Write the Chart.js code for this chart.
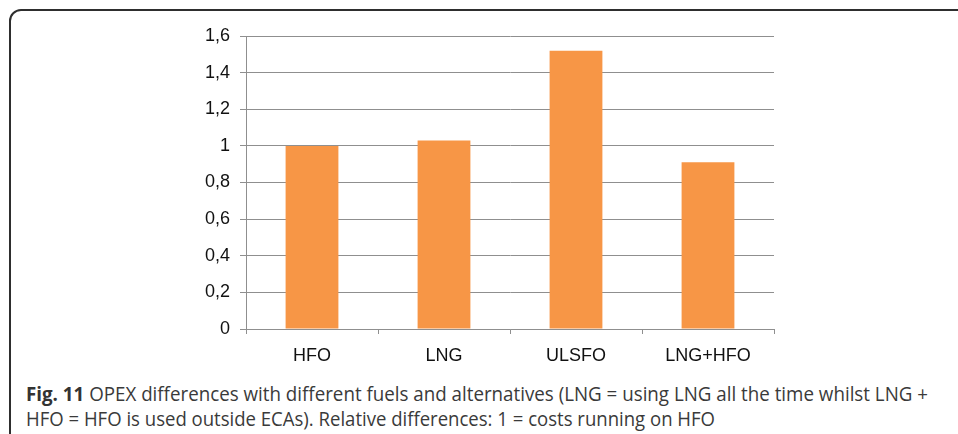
<!DOCTYPE html>
<html>
<head>
<meta charset="utf-8">
<script src="https://cdn.jsdelivr.net/npm/chart.js"></script>
<style>
  html, body { margin: 0; padding: 0; background: #fff; overflow: hidden; }
  #frame { position: absolute; left: 9px; top: 9px; width: 1000px; height: 500px;
           border: 2px solid #2e2e2e; border-radius: 12px; }
  #wrap { position: absolute; left: 0; top: 0; width: 958px; height: 375px; }
  .cap { position: absolute; left: 26px; white-space: nowrap; font-family: 'Open Sans', sans-serif;
         font-size: 20px; line-height: 26px; color: #3a3a3a; transform-origin: 0 0; }
  .cap b { color: #333; }
</style>
</head>
<body>
<div id="frame"></div>
<div id="wrap"><canvas id="opexChart"></canvas></div>
<div class="cap" id="line1" data-w="902" style="top:381px"><b>Fig. 11</b> OPEX differences with different fuels and alternatives (LNG = using LNG all the time whilst LNG +</div>
<div class="cap" id="line2" data-w="689" style="top:406px">HFO = HFO is used outside ECAs). Relative differences: 1 = costs running on HFO</div>
<script>
const categories = ['HFO', 'LNG', 'ULSFO', 'LNG+HFO'];
const opexValues = [1.0, 1.03, 1.52, 0.91];
const yTickLabels = ['0', '0,2', '0,4', '0,6', '0,8', '1', '1,2', '1,4', '1,6'];

document.addEventListener("DOMContentLoaded", () => {
  // squeeze caption lines to the width they take in the figure
  document.querySelectorAll('.cap').forEach(el => {
    const w = el.getBoundingClientRect().width;
    el.style.transform = 'scaleX(' + (el.dataset.w / w) + ')';
  });

  const ctx = document.getElementById('opexChart');
  new Chart(ctx, {
    type: 'bar',
    data: {
      labels: categories,
      datasets: [{
        data: opexValues,
        backgroundColor: '#F79646',
        categoryPercentage: 1,
        barPercentage: 0.4
      }]
    },
    options: {
      responsive: true,
      maintainAspectRatio: false,
      animation: false,
      layout: { padding: { top: 36, right: 184, left: 0, bottom: 0 } },
      plugins: {
        legend: { display: false },
        tooltip: { enabled: false }
      },
      scales: {
        x: {
          grid: { drawOnChartArea: false, offset: true, tickLength: 5, color: '#8f8f8f' },
          border: { color: '#8f8f8f' },
          ticks: { color: '#111', padding: 11, font: { family: 'Liberation Sans', size: 18 } },
          afterFit: s => { s.height = 46; }
        },
        y: {
          min: 0,
          max: 1.6,
          grid: { color: '#8f8f8f', tickLength: 6 },
          border: { color: '#8f8f8f' },
          ticks: {
            stepSize: 0.2,
            color: '#111',
            padding: 10,
            font: { family: 'Liberation Sans', size: 18 },
            callback: (v, i) => yTickLabels[i]
          },
          afterFit: s => { s.width = 246; }
        }
      }
    }
  });
});
</script>
</body>
</html>
